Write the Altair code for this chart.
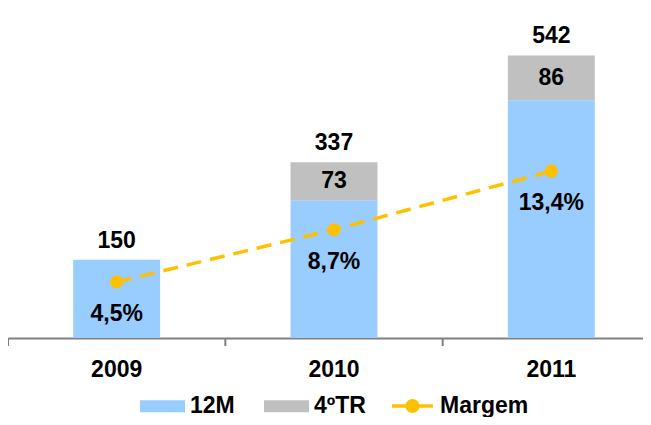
import altair as alt
import pandas as pd

anos = ["2009", "2010", "2011"]
v_12m = [150, 264, 456]
v_4tr = [None, 73, 86]
totais = [150, 337, 542]
margem = [4.5, 8.7, 13.4]
margem_txt = ["4,5%", "8,7%", "13,4%"]
series_bar = ["12M", "4ºTR"]
cores_bar = ["#99CCFF", "#C0C0C0"]
serie_linha = "Margem"
cor_linha = "#FFC000"

FONT = "Liberation Sans"
FS = 23
X_RANGE = 652          # band range (chart is cropped on the right like the reference)
STEP = X_RANGE / 3.0   # band step (paddingInner 0.6 + 2 * paddingOuter 0.3 = 0.6 -> n)

rows = []
for a, v1, v2 in zip(anos, v_12m, v_4tr):
    rows.append({"ano": a, "serie": "12M", "valor": v1, "ordem": 0})
    if v2 is not None:
        rows.append({"ano": a, "serie": "4ºTR", "valor": v2, "ordem": 1})
df_bar = pd.DataFrame(rows)

df_gray = pd.DataFrame({
    "ano": [a for a, v in zip(anos, v_4tr) if v is not None],
    "valor": [v for v in v_4tr if v is not None],
    "meio": [b + v / 2 for b, v in zip(v_12m, v_4tr) if v is not None],
})
df_tot = pd.DataFrame({"ano": anos, "total": totais})
df_m = pd.DataFrame({"ano": anos, "margem": margem, "txt": margem_txt,
                     "serie": [serie_linha] * len(anos)})
df_ticks = pd.DataFrame({"ano": anos})

rect_path = "M-1,-0.27H1V0.27H-1Z"
line_path = ("M-0.91,-0.078H0.91V0.078H-0.91Z"
             "M-0.31,0A0.31,0.31 0 1,1 0.31,0A0.31,0.31 0 1,1 -0.31,0Z")

leg_common = dict(
    orient="none", direction="horizontal", title=None, padding=0,
    symbolSize=2025, symbolStrokeWidth=0, labelFont=FONT, labelFontSize=FS,
    labelFontWeight="bold", labelColor="black", labelOffset=5,
    columnPadding=29, legendY=375.5,
)

xenc = alt.X(
    "ano:N",
    scale=alt.Scale(range=[0, X_RANGE], paddingInner=0.6, paddingOuter=0.3),
    axis=alt.Axis(
        title=None, labelAngle=0, domainColor="#808080", domainWidth=2,
        ticks=False, labelFont=FONT, labelFontSize=FS, labelFontWeight="bold",
        labelColor="black", labelPadding=31, labelBaseline="middle",
    ),
)

yb = alt.Scale(domain=[0, 633])
ym = alt.Scale(domain=[0, 26.5])

bars = alt.Chart(df_bar).mark_bar().encode(
    x=xenc,
    y=alt.Y("valor:Q", stack="zero", scale=yb, axis=None),
    color=alt.Color(
        "serie:N",
        scale=alt.Scale(domain=series_bar, range=cores_bar),
        legend=alt.Legend(legendX=132, symbolType=rect_path, **leg_common),
    ),
    order=alt.Order("ordem:Q"),
)

ticks = alt.Chart(df_ticks).mark_rule(
    color="#808080", strokeWidth=2, xOffset=-STEP / 2
).encode(x=xenc, y=alt.value(330), y2=alt.value(338))

gray_txt = alt.Chart(df_gray).mark_text(
    font=FONT, fontSize=FS, fontWeight="bold", color="black", baseline="middle"
).encode(x=xenc, y=alt.Y("meio:Q", scale=yb, axis=None), text="valor:Q")

tot_txt = alt.Chart(df_tot).mark_text(
    font=FONT, fontSize=FS, fontWeight="bold", color="black", baseline="middle", dy=-19
).encode(x=xenc, y=alt.Y("total:Q", scale=yb, axis=None), text="total:Q")

line = alt.Chart(df_m).mark_line(
    color=cor_linha, strokeWidth=3.5, strokeDash=[15, 9]
).encode(x=xenc, y=alt.Y("margem:Q", scale=ym, axis=None))

pts = alt.Chart(df_m).mark_circle(size=170, opacity=1).encode(
    x=xenc,
    y=alt.Y("margem:Q", scale=ym, axis=None),
    fill=alt.Fill(
        "serie:N",
        scale=alt.Scale(domain=[serie_linha], range=[cor_linha]),
        legend=alt.Legend(legendX=382, symbolType=line_path, **leg_common),
    ),
)

m_txt = alt.Chart(df_m).mark_text(
    font=FONT, fontSize=FS, fontWeight="bold", color="black", baseline="middle", dy=32
).encode(x=xenc, y=alt.Y("margem:Q", scale=ym, axis=None), text="txt:N")

left = alt.layer(bars, ticks, gray_txt, tot_txt)
right = alt.layer(line, pts, m_txt)

chart = (
    alt.layer(left, right)
    .resolve_scale(y="independent")
    .properties(
        width=635, height=330,
        autosize=alt.AutoSizeParams(type="none"),
        padding={"left": 0, "top": 0, "right": 0, "bottom": 79},
    )
    .configure(font=FONT, background="white")
    .configure_view(stroke=None)
)

chart.save("out.html", embed_options={"renderer": "svg", "actions": False})
